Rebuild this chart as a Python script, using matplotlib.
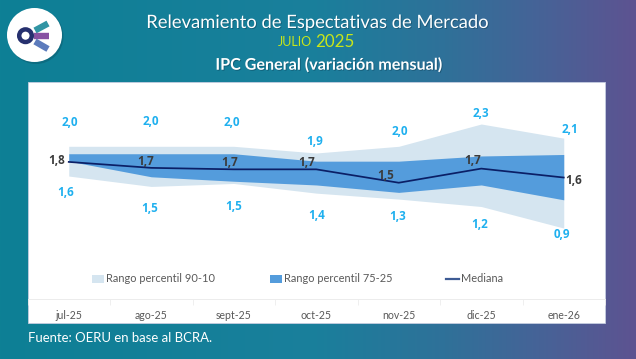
import numpy as np
import matplotlib
matplotlib.use("Agg")
import matplotlib.pyplot as plt
from matplotlib.patches import Ellipse, Rectangle, Circle, Patch
from matplotlib.lines import Line2D
from matplotlib.colors import LinearSegmentedColormap
import matplotlib.patheffects as pe

months = ["jul-25", "ago-25", "sept-25", "oct-25", "nov-25", "dic-25", "ene-26"]
p90 = [2.00, 2.00, 2.00, 1.91, 2.00, 2.30, 2.11]
p75 = [1.90, 1.90, 1.90, 1.80, 1.80, 1.87, 1.89]
median = [1.79, 1.71, 1.69, 1.69, 1.51, 1.70, 1.58]
p25 = [1.80, 1.59, 1.53, 1.48, 1.38, 1.48, 1.28]
p10 = [1.60, 1.46, 1.50, 1.37, 1.29, 1.19, 0.90]
p90_labels = ["2,0", "2,0", "2,0", "1,9", "2,0", "2,3", "2,1"]
p10_labels = ["1,6", "1,5", "1,5", "1,4", "1,3", "1,2", "0,9"]
median_labels = ["1,8", "1,7", "1,7", "1,7", "1,5", "1,7", "1,6"]

# label offsets in pixels, style only
top_off = [(1, 23.5), (-0.5, 24.5), (-2, 23.5), (-2, 11.5), (1, 14.5), (0, 11), (6, 9)]
low_off = [(-3, -16), (-2, -22), (0, -23), (0, -22), (-1, -17), (-2, -18), (-2, -6)]
med_off = [(-12, 1), (-6, 6), (-4, 7), (-10, 7), (-13, 7), (-9, 8), (10, -3)]

W, H = 636, 359
plt.rcParams["font.family"] = ["Lato", "DejaVu Sans"]
fig = plt.figure(figsize=(W / 100, H / 100), dpi=100)

# Background gradient
bg = fig.add_axes([0, 0, 1, 1], zorder=0)
cmap = LinearSegmentedColormap.from_list(
    "bg", [(0, "#0d8095"), (0.5, "#1a7f9c"), (0.7, "#2f7199"), (0.85, "#466397"), (1, "#5d5391")])
bg.imshow(np.linspace(0, 1, 256).reshape(1, -1), aspect="auto", cmap=cmap, extent=[0, W, H, 0])
bg.set_xlim(0, W)
bg.set_ylim(H, 0)
bg.axis("off")
bg.add_patch(Rectangle((27.5, 82), 577.5, 241, fc="white", ec="#c5cde0", lw=0.6))

# Logo
bg.add_patch(Ellipse((36, 36.5), 55, 55, fc="#0a4a5c", ec="none", alpha=0.35))
bg.add_patch(Ellipse((34.5, 35), 55, 54, fc="white", ec="none"))
for seg, c in [(((35, 30.5), (48, 23.5)), "#1a8a9a"), (((34, 35.5), (49, 35.5)), "#7a3f98"),
               (((35, 41.5), (48, 49)), "#4a6db5")]:
    bg.plot(*zip(*seg), color=c, lw=4.6, solid_capstyle="butt", alpha=0.9, zorder=2)
bg.add_patch(Circle((25.5, 35.7), 6.3, fc="white", ec="#26306e", lw=3.2, zorder=3))

# Titles
shadow = [pe.withSimplePatchShadow(offset=(0.6, -0.6), shadow_rgbFace="#0a3a50", alpha=0.5)]
bg.text(317.5, 23, "Relevamiento de Espectativas de Mercado", ha="center", va="center",
        color="white", fontsize=13.25, path_effects=shadow)
bg.text(295, 42, "JULIO", ha="center", va="center", color="#c8e619", fontsize=9.0)
bg.text(335, 42, "2025", ha="center", va="center", color="#c8e619", fontsize=12.2)
bg.text(329, 65.5, "IPC General (variación mensual)", ha="center", va="center",
        color="white", fontsize=11.6, fontweight="bold", path_effects=shadow)
bg.text(28, 338, "Fuente: OERU en base al BCRA.", ha="left", va="center", color="white", fontsize=9.45)

# Chart
L, R, T, B = 27.5, 605, 82, 298.7
ax = fig.add_axes([L / W, 1 - B / H, (R - L) / W, (B - T) / H], zorder=1)
ax.patch.set_alpha(0)
x = np.arange(len(months))
ax.fill_between(x, p10, p90, color="#d5e5f0", lw=0)
ax.fill_between(x, p25, p75, color="#549cdc", lw=0)
ax.plot(x, median, color="#0b1f66", lw=1.25)
ax.set_xlim(-0.5, 6.5)
ax.set_ylim(-0.05, 2.865)
ax.set_yticks([])
ax.set_xticks(x, months)
ax.set_xticks(np.arange(-0.5, 7), minor=True)
ax.tick_params(axis="x", which="major", length=0, pad=8, labelsize=7.6, labelcolor="#595959")
ax.tick_params(axis="x", which="minor", length=4, width=0.6, color="#ececec")
for s in ["top", "left", "right"]:
    ax.spines[s].set_visible(False)
ax.spines["bottom"].set_color("#ececec")
ax.spines["bottom"].set_linewidth(0.7)

def labels(vals, texts, offs, color):
    for xi, v, t, o in zip(x, vals, texts, offs):
        ax.annotate(t, (xi, v), xytext=o, textcoords="offset pixels", ha="center", va="center",
                    color=color, fontsize=8.4, fontweight="bold", family=["Open Sans", "DejaVu Sans"])

labels(p90, p90_labels, top_off, "#1fb0ef")
labels(p10, p10_labels, low_off, "#1fb0ef")
labels(median, median_labels, med_off, "#3b3b3b")

handles = [Patch(fc="#d5e5f0", ec="none", label="Rango percentil 90-10"),
           Patch(fc="#549cdc", ec="none", label="Rango percentil 75-25"),
           Line2D([], [], color="#3d5b94", lw=1.6, label="Mediana")]
ax.legend(handles=handles, ncol=3, loc="center", bbox_to_anchor=((297.5 - L) / (R - L), (B - 279) / (B - T)),
          frameon=False, fontsize=7.95, labelcolor="#595959", handlelength=1.1, handleheight=0.7,
          handletextpad=0.2, columnspacing=4.9)

fig.savefig("out.png", dpi=100)
